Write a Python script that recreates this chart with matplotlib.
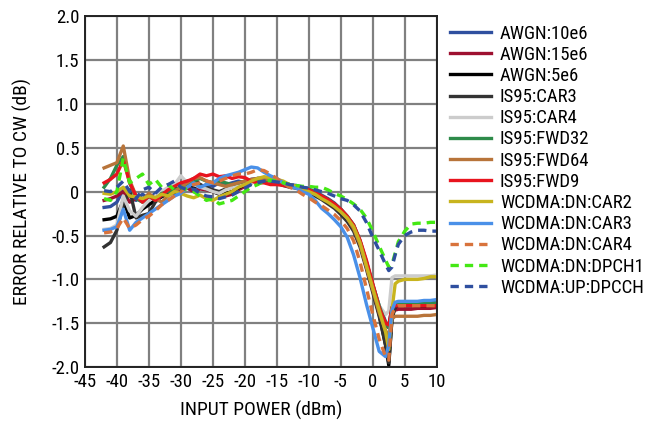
import matplotlib
matplotlib.use("Agg")
import matplotlib.pyplot as plt
from matplotlib import font_manager

# pick a narrow sans if one is installed, else Liberation Sans a bit smaller
installed = {f.name for f in font_manager.fontManager.ttflist}
fsize = 13.5
for fam in ['Liberation Sans Narrow', 'Roboto Condensed', 'Open Sans Condensed']:
    if fam in installed:
        plt.rcParams['font.family'] = [fam, 'DejaVu Sans']
        break
else:
    plt.rcParams['font.family'] = ['Liberation Sans', 'DejaVu Sans']
    fsize = 11.5
plt.rcParams['axes.unicode_minus'] = False

# input power (dBm), shared by all traces
x_dbm = [-42, -41, -40, -39, -38, -37, -36, -35, -34, -33,
         -32, -31, -30, -29, -28, -27, -26, -25, -24, -23,
         -22, -21, -20, -19, -18, -17, -16, -15, -14, -13,
         -12, -11, -10, -9, -8, -7, -6, -5, -4, -3,
         -2, -1, 0, 1, 2, 2.5, 3, 3.5, 4, 5,
         6, 7, 8, 9, 10]

awgn_10e6 = [-0.18, -0.17, -0.12, 0.02, -0.05, -0.1, -0.03, -0.08, -0.02, -0.05,
             0.0, -0.02, 0.03, 0.05, 0.02, 0.05, 0.08, 0.06, 0.1, 0.08,
             0.1, 0.12, 0.1, 0.14, 0.15, 0.16, 0.13, 0.12, 0.1, 0.08,
             0.07, 0.05, 0.03, 0.0, -0.04, -0.08, -0.13, -0.2, -0.28, -0.38,
             -0.56, -0.8, -1.06, -1.3, -1.48, -1.55, -1.3, -1.27, -1.26, -1.26,
             -1.26, -1.26, -1.25, -1.25, -1.24]
awgn_15e6 = [-0.1, -0.08, -0.05, 0.0, -0.12, -0.08, -0.1, -0.05, -0.08, -0.02,
             -0.04, 0.0, 0.02, 0.04, 0.0, 0.03, 0.02, 0.0, -0.02, -0.05,
             -0.03, 0.02, 0.06, 0.1, 0.12, 0.12, 0.1, 0.1, 0.08, 0.07,
             0.05, 0.04, 0.02, -0.01, -0.05, -0.09, -0.14, -0.21, -0.29, -0.4,
             -0.58, -0.82, -1.08, -1.33, -1.52, -1.55, -1.37, -1.35, -1.34, -1.34,
             -1.34, -1.33, -1.33, -1.33, -1.32]
awgn_5e6 = [-0.32, -0.31, -0.28, -0.1, -0.3, -0.27, -0.2, -0.15, -0.1, -0.06,
            -0.02, 0.05, 0.0, 0.12, 0.05, 0.08, 0.03, 0.0, -0.03, -0.02,
            0.0, 0.04, 0.08, 0.1, 0.14, 0.16, 0.13, 0.1, 0.1, 0.06,
            0.05, 0.03, 0.0, -0.03, -0.07, -0.12, -0.17, -0.25, -0.32, -0.42,
            -0.6, -0.85, -1.12, -1.4, -1.75, -1.98, -1.45, -1.31, -1.3, -1.3,
            -1.3, -1.3, -1.3, -1.3, -1.29]
is95_car3 = [-0.63, -0.58, -0.44, -0.15, 0.02, -0.3, -0.27, -0.25, -0.12, -0.05,
             0.0, -0.02, 0.05, 0.1, 0.15, 0.08, 0.05, 0.02, 0.0, 0.03,
             0.05, 0.06, 0.1, 0.12, 0.15, 0.14, 0.12, 0.1, 0.07, 0.05,
             0.04, 0.02, -0.01, -0.05, -0.09, -0.14, -0.19, -0.26, -0.34, -0.45,
             -0.63, -0.88, -1.15, -1.42, -1.75, -1.95, -1.45, -1.31, -1.3, -1.3,
             -1.3, -1.3, -1.3, -1.29, -1.29]
is95_car4 = [-0.43, -0.42, -0.38, -0.05, -0.22, -0.28, -0.18, -0.1, -0.05, 0.0,
             0.05, 0.08, 0.18, 0.1, 0.08, 0.05, 0.03, 0.0, -0.02, 0.02,
             0.05, 0.06, 0.08, 0.1, 0.12, 0.12, 0.1, 0.1, 0.08, 0.06,
             0.05, 0.03, 0.0, -0.03, -0.07, -0.11, -0.16, -0.22, -0.3, -0.4,
             -0.58, -0.83, -1.1, -1.3, -1.4, -1.36, -0.98, -0.96, -0.96, -0.96,
             -0.96, -0.96, -0.96, -0.96, -0.95]
is95_fwd32 = [0.05, 0.15, 0.3, 0.4, 0.1, -0.08, -0.12, -0.05, -0.1, -0.02,
              0.0, 0.02, 0.05, 0.08, 0.12, 0.15, 0.12, 0.1, 0.12, 0.1,
              0.08, 0.1, 0.12, 0.13, 0.14, 0.13, 0.12, 0.1, 0.08, 0.07,
              0.06, 0.04, 0.02, -0.01, -0.05, -0.09, -0.14, -0.2, -0.28, -0.38,
              -0.56, -0.8, -1.06, -1.3, -1.5, -1.55, -1.32, -1.29, -1.28, -1.28,
              -1.28, -1.28, -1.27, -1.27, -1.27]
is95_fwd64 = [0.27, 0.3, 0.33, 0.52, 0.13, -0.05, -0.1, -0.02, -0.08, -0.12,
              -0.05, 0.0, 0.05, 0.1, 0.15, 0.16, 0.12, 0.1, 0.08, 0.06,
              0.08, 0.1, 0.12, 0.14, 0.15, 0.15, 0.13, 0.12, 0.1, 0.08,
              0.06, 0.04, 0.02, -0.02, -0.06, -0.1, -0.15, -0.22, -0.3, -0.42,
              -0.6, -0.86, -1.12, -1.38, -1.58, -1.65, -1.45, -1.42, -1.42, -1.42,
              -1.42, -1.42, -1.41, -1.41, -1.4]
is95_fwd9 = [0.1, 0.14, 0.2, 0.36, 0.1, -0.05, -0.12, -0.05, -0.1, -0.04,
             0.02, 0.06, 0.1, 0.12, 0.15, 0.2, 0.18, 0.2, 0.17, 0.18,
             0.15, 0.17, 0.16, 0.12, 0.1, 0.1, 0.08, 0.08, 0.07, 0.06,
             0.05, 0.04, 0.02, -0.01, -0.05, -0.09, -0.14, -0.2, -0.28, -0.38,
             -0.55, -0.78, -1.05, -1.32, -1.5, -1.52, -1.32, -1.3, -1.3, -1.3,
             -1.3, -1.3, -1.3, -1.3, -1.3]
dn_car2 = [-0.02, -0.03, 0.0, 0.05, -0.05, -0.06, -0.08, -0.05, -0.07, -0.03,
           -0.05, 0.0, -0.02, -0.05, -0.07, -0.04, -0.08, -0.1, -0.06, -0.03,
           0.0, 0.05, 0.08, 0.12, 0.15, 0.17, 0.16, 0.14, 0.12, 0.08,
           0.06, 0.03, 0.0, -0.03, -0.08, -0.12, -0.17, -0.23, -0.3, -0.4,
           -0.58, -0.84, -1.1, -1.35, -1.6, -1.8, -1.35, -1.05, -1.02, -1.0,
           -1.0, -1.0, -0.99, -0.97, -0.97]
dn_car3 = [-0.44, -0.43, -0.4, -0.2, -0.44, -0.35, -0.3, -0.25, -0.2, -0.15,
           -0.1, -0.05, -0.02, 0.05, 0.1, 0.05, 0.08, 0.1, 0.15, 0.18,
           0.2, 0.22, 0.25, 0.28, 0.27, 0.22, 0.18, 0.15, 0.1, 0.06,
           0.04, 0.0, -0.03, -0.1, -0.19, -0.25, -0.32, -0.4, -0.52, -0.72,
           -0.98, -1.28, -1.55, -1.82, -1.88, -1.75, -1.35, -1.26, -1.25, -1.25,
           -1.25, -1.25, -1.24, -1.24, -1.23]
dn_car4 = [-0.47, -0.46, -0.42, -0.3, -0.42, -0.38, -0.32, -0.28, -0.22, -0.15,
           -0.1, -0.05, 0.0, 0.05, 0.08, 0.1, 0.12, 0.1, 0.12, 0.15,
           0.18, 0.2, 0.2, 0.22, 0.25, 0.24, 0.2, 0.15, 0.1, 0.05,
           0.02, -0.03, -0.07, -0.12, -0.16, -0.21, -0.26, -0.33, -0.42, -0.56,
           -0.8, -1.1, -1.4, -1.68, -1.88, -1.92, -1.4, -1.32, -1.3, -1.3,
           -1.3, -1.3, -1.3, -1.3, -1.3]
dn_dpch1 = [-0.08, -0.1, 0.0, 0.38, 0.1, 0.15, 0.2, 0.08, 0.14, 0.05,
            0.08, 0.02, 0.05, 0.02, 0.0, -0.05, -0.1, -0.08, -0.14, -0.12,
            -0.1, -0.05, 0.0, 0.05, 0.08, 0.12, 0.13, 0.12, 0.1, 0.08,
            0.07, 0.06, 0.06, 0.05, 0.05, 0.02, -0.02, -0.05, -0.09, -0.14,
            -0.2, -0.3, -0.45, -0.62, -0.78, -0.86, -0.83, -0.7, -0.57, -0.45,
            -0.37, -0.36, -0.36, -0.35, -0.35]
up_dpcch = [0.01, 0.0, 0.05, 0.12, 0.0, -0.08, 0.02, 0.05, -0.02, 0.05,
            0.08, 0.12, 0.05, 0.02, 0.03, -0.02, -0.05, -0.06, -0.08, -0.06,
            -0.04, 0.0, 0.04, 0.08, 0.1, 0.12, 0.12, 0.11, 0.1, 0.08,
            0.07, 0.05, 0.04, 0.02, 0.0, -0.02, -0.05, -0.08, -0.1, -0.15,
            -0.22, -0.35, -0.52, -0.67, -0.83, -0.9, -0.86, -0.72, -0.6, -0.5,
            -0.46, -0.44, -0.44, -0.45, -0.45]

labels = ['AWGN:10e6', 'AWGN:15e6', 'AWGN:5e6', 'IS95:CAR3', 'IS95:CAR4',
          'IS95:FWD32', 'IS95:FWD64', 'IS95:FWD9', 'WCDMA:DN:CAR2',
          'WCDMA:DN:CAR3', 'WCDMA:DN:CAR4', 'WCDMA:DN:DPCH1', 'WCDMA:UP:DPCCH']
series = [awgn_10e6, awgn_15e6, awgn_5e6, is95_car3, is95_car4, is95_fwd32,
          is95_fwd64, is95_fwd9, dn_car2, dn_car3, dn_car4, dn_dpch1, up_dpcch]
colors = ['#2f4f9f', '#9e1030', '#000000', '#333333', '#cccccc', '#2e8b4a',
          '#b8743a', '#e8141e', '#c8b41e', '#4a90e8', '#d8733c', '#44e814', '#2f4f9f']
styles = ['-'] * 10 + ['--'] * 3

fig = plt.figure(figsize=(6.48, 4.23), dpi=100)
ax = fig.add_axes([0.131, 0.132, 0.543, 0.830])

for y, lab, c, ls in zip(series, labels, colors, styles):
    if ls == '--':
        ax.plot(x_dbm, y, ls, color=c, lw=2.4, label=lab, dashes=(2.5, 1.8))
    else:
        ax.plot(x_dbm, y, ls, color=c, lw=2.4, label=lab)

ax.set_xlim(-45, 10)
ax.set_ylim(-2, 2)
ax.set_xticks(range(-45, 11, 5))
ax.set_yticks([2, 1.5, 1, 0.5, 0, -0.5, -1, -1.5, -2])
ax.set_yticklabels(['2.0', '1.5', '1.0', '0.5', '0', '-0.5', '-1.0', '-1.5', '-2.0'])
ax.tick_params(length=0, labelsize=fsize, pad=4)
ax.grid(color='#808080', lw=1.6)
ax.set_axisbelow(True)
for s in ax.spines.values():
    s.set_color('#222222')
    s.set_linewidth(1.4)

ax.set_xlabel('INPUT POWER (dBm)', fontsize=fsize + 0.5, labelpad=7)
ax.set_ylabel('ERROR RELATIVE TO CW (dB)', fontsize=fsize + 0.5, labelpad=14)

ax.legend(loc='upper left', bbox_to_anchor=(0.694, 0.942), bbox_transform=fig.transFigure,
          frameon=False, fontsize=fsize, handlelength=2.2, handletextpad=0.48,
          labelspacing=0.17, borderaxespad=0, borderpad=0)

plt.savefig('out.png', dpi=100)
